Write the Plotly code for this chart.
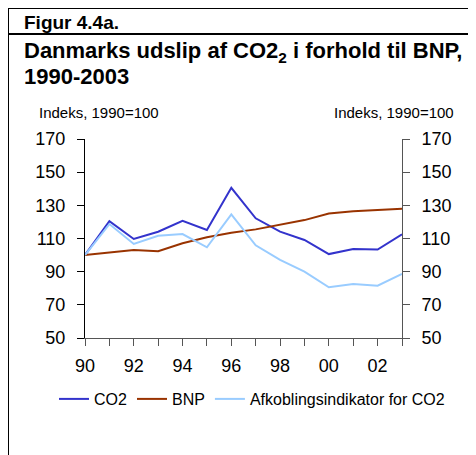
import plotly.graph_objects as go

years = list(range(1990, 2004))
co2 = [100, 120.5, 109.7, 114.1, 120.7, 115.1, 140.6, 122.2, 114.1, 109.1, 100.6, 103.7, 103.3, 112.5]
bnp = [100, 101.4, 103.0, 102.3, 107.1, 110.7, 113.5, 115.5, 118.1, 121.1, 125.1, 126.4, 127.2, 128.0]
afk = [100, 118.7, 106.7, 111.7, 112.7, 104.7, 124.6, 105.9, 97.1, 90.0, 80.6, 82.5, 81.5, 88.6]
x_ticktext = ["90", "", "92", "", "94", "", "96", "", "98", "", "00", "", "02", ""]
y_ticks = [50, 70, 90, 110, 130, 150, 170]

FONT = "Liberation Sans, Arial, sans-serif"
W, H = 476, 455
OFF = 8  # the page body adds an 8px margin; positions below are page pixels
PW, PH = 317, 199
L, T = 85 - OFF, 139 - OFF
R, B = W - L - PW, H - T - PH


def px_x(px):
    return (px - OFF - L) / PW


def px_y(py):
    return (H - B - (py - OFF)) / PH


fig = go.Figure()
fig.add_trace(go.Scatter(x=years, y=co2, name="CO2", mode="lines",
                         line=dict(color="#3333cc", width=2)))
fig.add_trace(go.Scatter(x=years, y=bnp, name="BNP", mode="lines",
                         line=dict(color="#993300", width=2)))
fig.add_trace(go.Scatter(x=years, y=afk, name="Afkoblingsindikator for CO2", mode="lines",
                         line=dict(color="#99ccff", width=2)))
# invisible trace so that the right-hand axis is drawn
fig.add_trace(go.Scatter(x=years, y=bnp, yaxis="y2", mode="lines", showlegend=False,
                         hoverinfo="skip", line=dict(color="rgba(0,0,0,0)", width=0)))

fig.update_layout(
    width=W, height=H,
    margin=dict(l=L, r=R, t=T, b=B, autoexpand=False),
    paper_bgcolor="white", plot_bgcolor="white",
    font=dict(family=FONT, color="black"),
    showlegend=True,
    legend=dict(orientation="h", x=px_x(54), xanchor="left", y=px_y(399), yanchor="middle",
                font=dict(size=16, family=FONT), itemwidth=30, tracegroupgap=0,
                bgcolor="rgba(0,0,0,0)"),
    xaxis=dict(range=[1990, 2003], tickmode="array", tickvals=years, ticktext=x_ticktext,
               ticks="outside", ticklen=7, tickcolor="#555", showline=True, linecolor="#555",
               showgrid=False, zeroline=False, tickfont=dict(size=18), ticklabelstandoff=4),
    yaxis=dict(range=[50, 170], tickvals=y_ticks, ticks="outside", ticklen=7,
               tickcolor="#000", showline=True, linecolor="#000", showgrid=False,
               zeroline=False, tickfont=dict(size=18), ticklabelstandoff=8),
    yaxis2=dict(range=[50, 170], tickvals=y_ticks, ticks="outside", ticklen=7,
                overlaying="y", side="right", tickcolor="#555", showline=True,
                linecolor="#555", showgrid=False, zeroline=False, tickfont=dict(size=18),
                ticklabelstandoff=8),
)

frame = [
    (OFF, OFF, W + OFF, OFF),
    (OFF, 34, W + OFF, 34),
    (OFF, OFF, OFF, H + OFF),
]
for x0, y0, x1, y1 in frame:
    fig.add_shape(type="line", xref="paper", yref="paper",
                  x0=px_x(x0), x1=px_x(x1), y0=px_y(y0), y1=px_y(y1),
                  line=dict(color="black", width=2))

fig.add_annotation(text="<b>Figur 4.4a.</b>", xref="paper", yref="paper",
                   x=px_x(22), y=px_y(22), xanchor="left", yanchor="middle",
                   showarrow=False, font=dict(size=19, family=FONT))
fig.add_annotation(text="<b>Danmarks udslip af CO2<sub>2</sub> i forhold til BNP,</b>",
                   xref="paper", yref="paper", x=px_x(22), y=px_y(52),
                   xanchor="left", yanchor="middle", showarrow=False,
                   font=dict(size=22, family=FONT))
fig.add_annotation(text="<b>1990-2003</b>", xref="paper", yref="paper",
                   x=px_x(22), y=px_y(76), xanchor="left", yanchor="middle",
                   showarrow=False, font=dict(size=22, family=FONT))
fig.add_annotation(text="Indeks, 1990=100", xref="paper", yref="paper",
                   x=px_x(37), y=px_y(112), xanchor="left", yanchor="middle",
                   showarrow=False, font=dict(size=15, family=FONT))
fig.add_annotation(text="Indeks, 1990=100", xref="paper", yref="paper",
                   x=px_x(456), y=px_y(112), xanchor="right", yanchor="middle",
                   showarrow=False, font=dict(size=15, family=FONT))

fig.write_html("out.html")
